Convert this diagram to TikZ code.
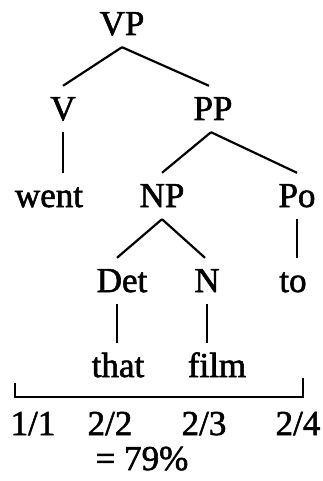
\documentclass[tikz,border=0pt]{standalone}
\usepackage{fontspec}
\setmainfont{Liberation Serif}[FakeBold=1.6]
\begin{document}
\begin{tikzpicture}[x=1pt,y=-1pt,
  lab/.style={anchor=base,inner xsep=0pt,inner ysep=12pt,text height=22pt,text depth=0pt,
    font=\fontsize{35}{40}\selectfont},
  edge/.style={line width=2.2pt,line cap=butt}]
\useasboundingbox[fill=white] (0,0) rectangle (323,481);
% nodes
\node[lab] (VP) at (122,35) {VP};
\node[lab] (V) at (63,120) {V};
\node[lab] (PP) at (213,120) {PP};
\node[lab] (went) at (49,207) {went};
\node[lab] (NP) at (162,207) {NP};
\node[lab] (Po) at (297,207) {Po};
\node[lab] (Det) at (122,292) {Det};
\node[lab] (N) at (207,292) {N};
\node[lab] (to) at (293,292) {to};
\node[lab] (that) at (118,377) {that};
\node[lab] (film) at (217,377) {film};
\node[lab] (s1) at (33,435) {1/1};
\node[lab] (s2) at (110,435) {2/2};
\node[lab] (s3) at (204,435) {2/3};
\node[lab] (s4) at (298,435) {2/4};
\node[lab] (eq) at (142,470) {= 79\%};
% edges
\draw[edge] (VP.south) -- (V.north);
\draw[edge] (VP.south) -- ([xshift=-4pt]PP.north);
\draw[edge] (V.south) -- (V.south |- went.north);
\draw[edge] ([xshift=-2pt]PP.south) -- (NP.north);
\draw[edge] ([xshift=-2pt]PP.south) -- (Po.north);
\draw[edge] (NP.south) -- ([xshift=-5pt]Det.north);
\draw[edge] (NP.south) -- ([xshift=-2pt]N.north);
\draw[edge] (Po.south) -- (Po.south |- to.north);
\draw[edge] ([xshift=-5pt]Det.south) -- ([xshift=-5pt]Det.south |- that.north);
\draw[edge] (N.south) -- (N.south |- film.north);
% bracket
\coordinate (bl) at (15,383);
\coordinate (br) at (303,378);
\draw[edge] (bl) -- (15,397) -- (303,397) -- (br);
\end{tikzpicture}
\end{document}
